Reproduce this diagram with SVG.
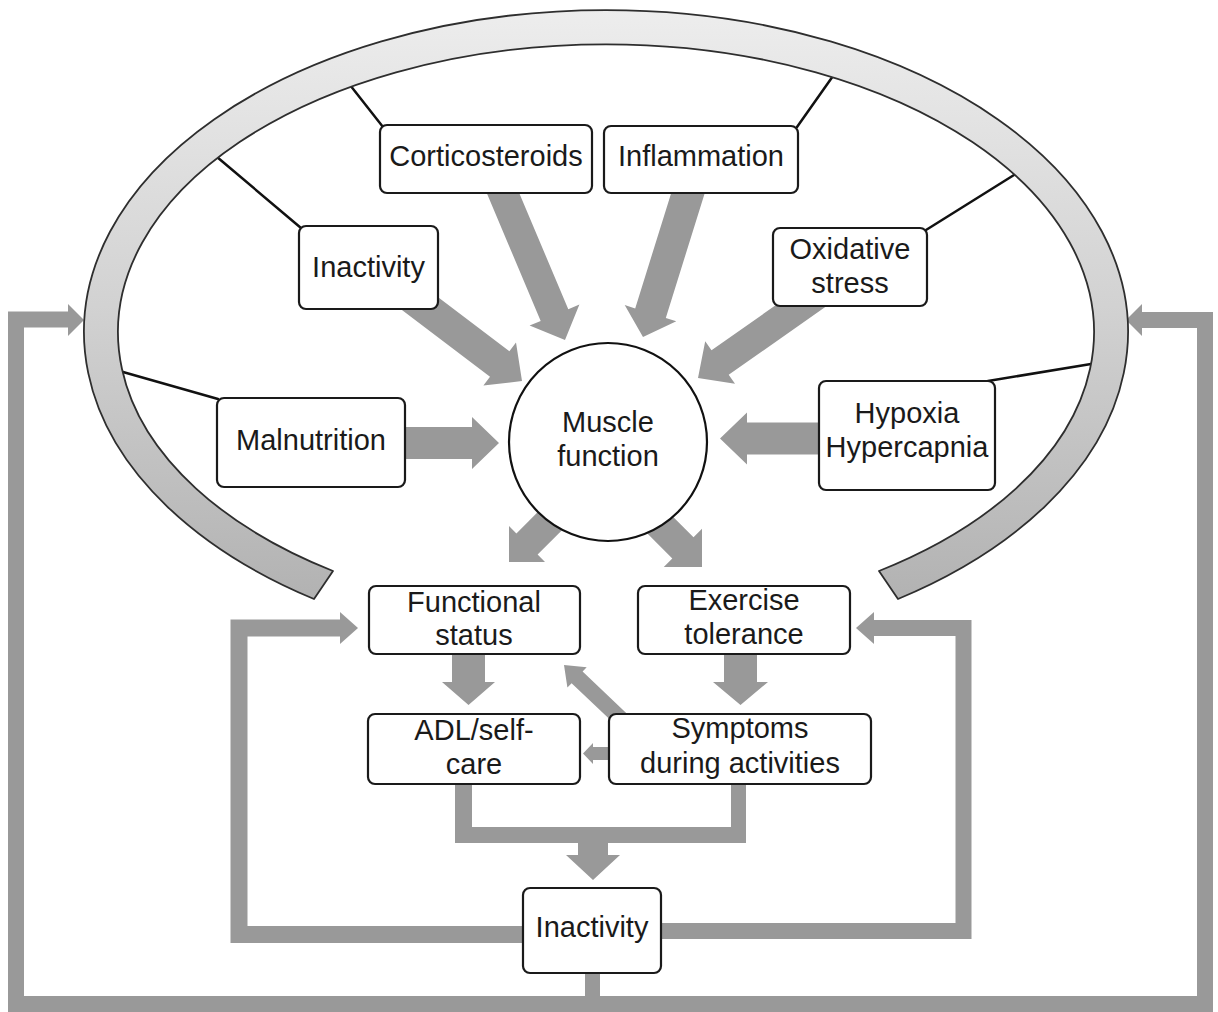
<svg xmlns="http://www.w3.org/2000/svg" width="1218" height="1012" viewBox="0 0 1218 1012">
<defs>
<style>
.box{fill:#fff;stroke:#1a1a1a;stroke-width:2.2}
.lbl{font-family:"Liberation Sans",Arial,sans-serif;font-size:29px;fill:#1a1a1a;text-anchor:middle}
.arr{fill:#999}
.loop{fill:none;stroke:#999;stroke-linejoin:miter;stroke-linecap:butt}
.tie{stroke:#111;stroke-width:2.5;stroke-linecap:round}
</style>
<linearGradient id="arcg" x1="0" y1="10" x2="0" y2="600" gradientUnits="userSpaceOnUse">
<stop offset="0" stop-color="#ededed"/>
<stop offset="0.5" stop-color="#d2d2d2"/>
<stop offset="1" stop-color="#b2b2b2"/>
</linearGradient>
</defs>
<rect width="1218" height="1012" fill="#fff"/>

<g id="connectors">
<!-- outer feedback loop -->
<polyline class="loop" stroke-width="16" points="70,319.5 16,319.5 16,1004 1205,1004 1205,320 1140,320"/>
<line class="loop" stroke-width="15" x1="592.5" y1="965" x2="592.5" y2="1004"/>
<polygon class="arr" points="68,304 84,320 68,336"/>
<polygon class="arr" points="1142,304 1126,320 1142,336"/>
<!-- inner feedback loops -->
<polyline class="loop" stroke-width="17" points="530,934.5 239,934.5 239,628 342,628"/>
<polygon class="arr" points="340,612 358,628 340,644"/>
<polyline class="loop" stroke-width="16" points="655,931 963.5,931 963.5,628 872,628"/>
<polygon class="arr" points="874,612 856,628 874,644"/>
<!-- tie lines to arc -->
<line class="tie" x1="350" y1="85" x2="383" y2="127"/>
<line class="tie" x1="217" y1="157" x2="301" y2="228"/>
<line class="tie" x1="833" y1="76" x2="797" y2="127"/>
<line class="tie" x1="1014" y1="175" x2="926" y2="230"/>
<line class="tie" x1="123" y1="372" x2="218" y2="399"/>
<line class="tie" x1="1091" y1="364" x2="988" y2="381"/>
<!-- causes to muscle function -->
<polygon class="arr" points="485.8,190.8 540.7,320.9 529.6,325.6 565,340 579.4,304.6 568.3,309.3 513.4,179.2"/>
<polygon class="arr" points="675.2,180.2 635.2,308.4 624.7,305.1 643,337 676.3,321.2 665.8,317.9 705.8,189.8"/>
<polygon class="arr" points="400.3,308.7 490,376.8 483.4,385.6 522,381 516,342.6 509.4,351.3 419.7,283.3"/>
<polygon class="arr" points="811.6,280 711.5,350.2 705.2,341.2 698,378 735,383.8 728.7,374.8 828.8,304.6"/>
<polygon class="arr" points="400,427 472,427 472,417 499,443 472,469 472,459 400,459"/>
<polygon class="arr" points="825,422.5 747,422.5 747,412.5 720,438.5 747,464.5 747,454.5 825,454.5"/>
<!-- muscle function outputs -->
<polygon class="arr" points="549.3,500.5 516.4,533.4 509,526 509,562 545,562 537.6,554.6 570.5,521.7"/>
<polygon class="arr" points="638.4,524.6 672.3,558.5 663.8,567 702,567 702,528.8 693.5,537.3 659.6,503.4"/>
<!-- lower chain -->
<polygon class="arr" points="452,650 485,650 485,682 495,682 468.5,705 442,682 452,682"/>
<polygon class="arr" points="724,650 757,650 757,682 768,682 740.5,705 713,682 724,682"/>
<polygon class="arr" points="627.5,714.2 582.6,671.6 586.7,667.2 564,665 567.4,687.6 571.6,683.2 616.5,725.8"/>
<polygon class="arr" points="613,747 593,747 593,743 583,753.5 593,764 593,760 613,760"/>
<polygon class="arr" points="455,780 472,780 472,827 731,827 731,780 746,780 746,843 608,843 608,855 620,855 593,880 566,855 578,855 578,843 455,843"/>
</g>

<g id="arc">
<path d="M 314,599 A 522 322 0 1 1 898,599 L 879,571 A 488 288 0 1 0 333,571 Z" fill="url(#arcg)" stroke="#2e2e2e" stroke-width="1.8" stroke-linejoin="round"/>
</g>

<g id="muscle-function">
<circle cx="608" cy="442" r="99" fill="#fff" stroke="#111" stroke-width="2.2"/>
<text class="lbl" x="608" y="432">Muscle</text>
<text class="lbl" x="608" y="466">function</text>
</g>
<g id="corticosteroids">
<rect class="box" x="380" y="125" width="212" height="68" rx="7"/>
<text class="lbl" x="486" y="166">Corticosteroids</text>
</g>
<g id="inflammation">
<rect class="box" x="604" y="126" width="194" height="67" rx="7"/>
<text class="lbl" x="701" y="166">Inflammation</text>
</g>
<g id="inactivity-top">
<rect class="box" x="299" y="226" width="139" height="83" rx="7"/>
<text class="lbl" x="368.5" y="277">Inactivity</text>
</g>
<g id="oxidative-stress">
<rect class="box" x="773" y="228" width="154" height="78" rx="7"/>
<text class="lbl" x="850" y="259">Oxidative</text>
<text class="lbl" x="850" y="293">stress</text>
</g>
<g id="malnutrition">
<rect class="box" x="217" y="398" width="188" height="89" rx="7"/>
<text class="lbl" x="311" y="450">Malnutrition</text>
</g>
<g id="hypoxia-hypercapnia">
<rect class="box" x="819" y="381" width="176" height="109" rx="7"/>
<text class="lbl" x="907" y="423">Hypoxia</text>
<text class="lbl" x="907" y="457">Hypercapnia</text>
</g>
<g id="functional-status">
<rect class="box" x="369" y="586" width="211" height="68" rx="7"/>
<text class="lbl" x="474" y="612">Functional</text>
<text class="lbl" x="474" y="645">status</text>
</g>
<g id="exercise-tolerance">
<rect class="box" x="638" y="586" width="212" height="68" rx="7"/>
<text class="lbl" x="744" y="610">Exercise</text>
<text class="lbl" x="744" y="644">tolerance</text>
</g>
<g id="adl-self-care">
<rect class="box" x="368" y="714" width="212" height="70" rx="7"/>
<text class="lbl" x="474" y="740">ADL/self-</text>
<text class="lbl" x="474" y="774">care</text>
</g>
<g id="symptoms">
<rect class="box" x="609" y="714" width="262" height="70" rx="7"/>
<text class="lbl" x="740" y="738">Symptoms</text>
<text class="lbl" x="740" y="773">during activities</text>
</g>
<g id="inactivity-bottom">
<rect class="box" x="523" y="888" width="138" height="85" rx="7"/>
<text class="lbl" x="592" y="937">Inactivity</text>
</g>
</svg>
